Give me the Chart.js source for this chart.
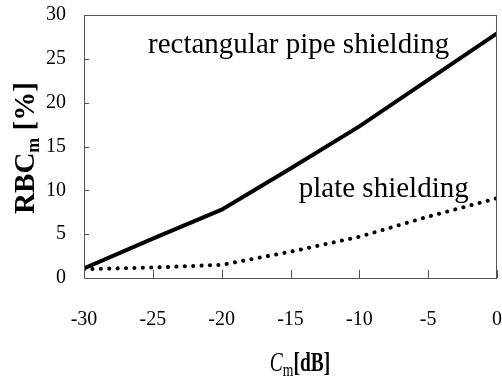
<!DOCTYPE html>
<html><head><meta charset="utf-8">
<script src="https://cdn.jsdelivr.net/npm/chart.js@4/dist/chart.umd.min.js"></script>
<style>html,body{margin:0;padding:0;background:#fff}#wrap{width:502px;height:387px}</style>
</head><body><div id="wrap"><canvas id="c"></canvas></div>
<script>
const xValues = [-30, -25, -20, -15, -10, -5, 0];
const pipeShielding = [1.1, 4.5, 7.8, 12.5, 17.3, 22.6, 27.9];
const plateShielding = [1.0, 1.2, 1.5, 3.0, 4.7, 7.0, 9.1];
const xTicks = [-30, -25, -20, -15, -10, -5, 0];
const yTicks = [0, 5, 10, 15, 20, 25, 30];
const seriesNames = ['rectangular pipe shielding', 'plate shielding'];

const SERIF = '"Liberation Serif", "DejaVu Serif", serif';

const decor = {
  id: 'decor',
  afterDraw(chart) {
    const {ctx, chartArea: a, scales: {x, y}} = chart;
    ctx.save();
    ctx.strokeStyle = '#555';
    ctx.lineWidth = 1;
    ctx.strokeRect(a.left + 0.5, a.top + 0.5, a.right - a.left - 1, a.bottom - a.top);
    // inward ticks
    ctx.beginPath();
    xTicks.forEach(v => { const px = Math.round(x.getPixelForValue(v)) + 0.5; ctx.moveTo(px, a.bottom); ctx.lineTo(px, a.bottom - 8); });
    yTicks.forEach(v => { const py = Math.round(y.getPixelForValue(v)) + 0.5; ctx.moveTo(a.left, py); ctx.lineTo(a.left + 5, py); });
    ctx.stroke();
    // series labels
    ctx.fillStyle = '#000';
    ctx.font = '29px ' + SERIF;
    ctx.textBaseline = 'alphabetic';
    ctx.textAlign = 'left';
    ctx.fillText(seriesNames[0], x.getPixelForValue(-25.35), y.getPixelForValue(25.66));
    ctx.fillText(seriesNames[1], x.getPixelForValue(-14.4), y.getPixelForValue(9.24));
    // y title
    ctx.save();
    ctx.translate(34, 148);
    ctx.rotate(-Math.PI / 2);
    ctx.textBaseline = 'alphabetic';
    const big = 'bold 29px ' + SERIF, small = 'bold 18px ' + SERIF;
    const p1 = 'RBC', p3 = ' [%]';
    ctx.font = big; const w1 = ctx.measureText(p1).width;
    ctx.font = small; const w2 = ctx.measureText('m').width;
    ctx.font = big; const w3 = ctx.measureText(p3).width;
    let sx = -(w1 + w2 + w3) / 2;
    ctx.fillText(p1, sx, 0); sx += w1;
    ctx.font = small; ctx.fillText('m', sx, 5); sx += w2;
    ctx.font = big; ctx.fillText(p3, sx, 0);
    ctx.restore();
    // x title (horizontally condensed like the reference)
    ctx.save();
    ctx.translate(300, 371);
    ctx.scale(0.72, 1);
    ctx.textBaseline = 'alphabetic';
    ctx.font = 'italic 27px ' + SERIF; const c1 = ctx.measureText('C').width;
    ctx.font = '19px ' + SERIF; const c2 = ctx.measureText('m').width;
    ctx.font = 'bold 27px ' + SERIF; const c3 = ctx.measureText('[dB]').width;
    let tx = -(c1 + c2 + c3) / 2;
    ctx.font = 'italic 27px ' + SERIF; ctx.fillText('C', tx, 0); tx += c1;
    ctx.font = '19px ' + SERIF; ctx.fillText('m', tx, 5); tx += c2;
    ctx.font = 'bold 27px ' + SERIF; ctx.fillText('[dB]', tx, 0);
    ctx.restore();
    ctx.restore();
  }
};

new Chart(document.getElementById('c'), {
  type: 'line',
  data: {
    datasets: [
      { label: seriesNames[0], data: xValues.map((v, i) => ({x: v, y: pipeShielding[i]})),
        borderColor: '#000', borderWidth: 4, pointRadius: 0, tension: 0, borderCapStyle: 'butt' },
      { label: seriesNames[1], data: xValues.map((v, i) => ({x: v, y: plateShielding[i]})),
        borderColor: '#000', borderWidth: 4, borderDash: [0.1, 8.3], borderCapStyle: 'round', pointRadius: 0, tension: 0 }
    ]
  },
  options: {
    responsive: true, maintainAspectRatio: false, animation: false,
    layout: { padding: { left: 0, right: 5, top: 15, bottom: 0 } },
    plugins: { legend: { display: false }, tooltip: { enabled: false } },
    scales: {
      x: { type: 'linear', min: -30, max: 0,
        afterFit(s) { s.height = 109; s.paddingLeft = 0; s.paddingRight = 0; },
        afterBuildTicks(s) { s.ticks = xTicks.map(v => ({value: v})); },
        grid: { display: false, drawTicks: false },
        border: { display: false },
        ticks: { color: '#000', padding: 30, font: { family: SERIF, size: 20 } } },
      y: { type: 'linear', min: 0, max: 30,
        afterFit(s) { s.width = 84; s.paddingTop = 0; s.paddingBottom = 0; },
        afterBuildTicks(s) { s.ticks = yTicks.map(v => ({value: v})); },
        grid: { display: false, drawTicks: false },
        border: { display: false },
        ticks: { color: '#000', padding: 18, font: { family: SERIF, size: 20 } } }
    }
  },
  plugins: [decor]
});
</script></body></html>
